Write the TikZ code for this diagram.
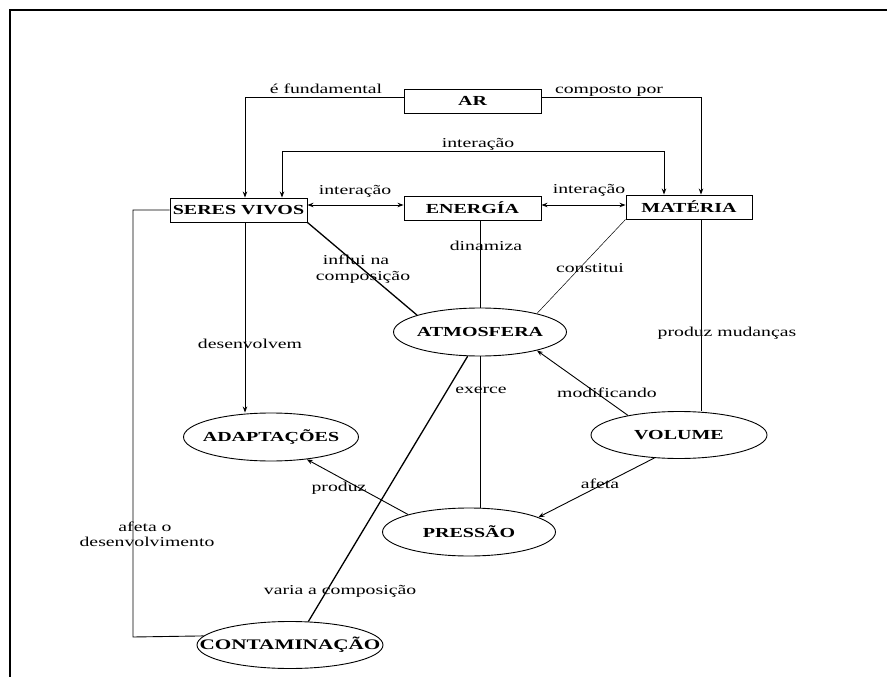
\documentclass[tikz,border=0pt]{standalone}
\usepackage{fontspec}
\setmainfont{Liberation Serif}[FakeStretch=1.45]
\usetikzlibrary{arrows.meta,shapes.geometric}
\newcommand{\zw}[1]{\makebox[0pt]{#1}}
\begin{document}
\begin{tikzpicture}[x=1pt,y=-1pt,
  every node/.style={font=\fontsize{13.6}{16}\selectfont},
  box/.style={draw, line width=0.9pt, rectangle, inner sep=0pt, minimum height=24pt, font=\fontsize{13.8}{16}\selectfont\bfseries},
  oval/.style={draw, line width=0.9pt, ellipse, inner sep=0pt, font=\fontsize{13.8}{16}\selectfont\bfseries},
  lbl/.style={anchor=base, inner sep=0pt},
  con/.style={line width=0.9pt},
  arr/.style={con, -{Stealth[length=6pt,width=4.5pt]}},
  darr/.style={con, {Stealth[length=6pt,width=4.5pt]}-{Stealth[length=6pt,width=4.5pt]}}
]
\useasboundingbox (0,0) rectangle (887,677);
% frame
\coordinate (f0) at (10,677); \coordinate (f1) at (10,10); \coordinate (f2) at (887,10);
\draw[line width=1.2pt] (f0) -- (f1) -- (f2);

% nodes
\node[box, minimum width=137pt] (ar) at (472.5,101) {AR};
\node[box, minimum width=137pt] (sv) at (238.5,210) {SERES VIVOS};
\node[box, minimum width=137pt] (en) at (472.5,208) {ENERGÍA};
\node[box, minimum width=126pt] (ma) at (689,207) {MATÉRIA};
\node[oval, minimum width=173pt, minimum height=48pt] (atm) at (480,332) {\zw{ATMOSFERA}};
\node[oval, minimum width=175pt, minimum height=48pt] (adapt) at (271,437) {\zw{ADAPTAÇÕES}};
\node[oval, minimum width=176pt, minimum height=47pt] (vol) at (679,435) {\zw{VOLUME}};
\node[oval, minimum width=173pt, minimum height=48pt] (pres) at (469,532) {\zw{PRESSÃO}};
\node[oval, minimum width=186pt, minimum height=47pt, font=\fontsize{14.6}{16}\selectfont\bfseries] (cont) at (290,645) {\zw{CONTAMINAÇÃO}};

% helper coordinates
\coordinate (xl) at (245,0);
\coordinate (xr) at (701,0);
\coordinate (xe) at (480,0);
\coordinate (xi1) at (282,151);
\coordinate (xi2) at (664,151);
\coordinate (ya) at (0,97);
\coordinate (yi) at (0,205);
\coordinate (bl) at (133,637);

% connectors
\draw[arr] (ar.west |- ya) -| (sv.north -| xl);
\draw[arr] (ar.east |- ya) -| (ma.north -| xr);
\draw[darr] (sv.north -| xi1) |- (xi2) -- (ma.north -| xi2);
\draw[darr] (sv.east |- yi) -- (en.west |- yi);
\draw[darr] (en.east |- yi) -- (ma.west |- yi);
\draw[con] (sv.west) -| (bl) -- (cont.174.75);
\draw[arr] (sv.south -| xl) -- (adapt.north -| xl);
\draw[con, line width=1.3pt] (sv.south east) -- (atm.165);
\draw[con] (en.south -| xe) -- (atm.north);
\draw[con, line width=0.5pt] (ma.south west) -- (atm.18);
\draw[con] (ma.south -| xr) -- (vol.north -| xr);
\draw[arr] (vol.159) -- (atm.-18);
\draw[arr] (vol.-137) -- (pres.12);
\draw[arr] (pres.164.7) -- (adapt.-32);
\draw[con] (atm.south) -- (atm.south |- pres.north);
\draw[con, line width=1.3pt] (cont.52) -- (atm.-117.5);

% labels
\node[lbl] at (326,94) {é fundamental};
\node[lbl] at (609,94) {composto por};
\node[lbl] at (478,147) {interação};
\node[lbl] at (355,194) {interação};
\node[lbl] at (589,193) {interação};
\node[lbl] at (486,250) {dinamiza};
\node[lbl] at (356,264) {influi na};
\node[lbl] at (363,280) {composição};
\node[lbl] at (590,272) {constitui};
\node[lbl] at (250,348) {desenvolvem};
\node[lbl] at (727,336) {produz mudanças};
\node[lbl] at (481,393) {exerce};
\node[lbl] at (607,397) {modificando};
\node[lbl] at (600,488) {afeta};
\node[lbl] at (339,491) {produz};
\node[lbl] at (145,531) {afeta o};
\node[lbl] at (147,546) {desenvolvimento};
\node[lbl] at (340,594) {varia a composição};
\end{tikzpicture}
\end{document}
